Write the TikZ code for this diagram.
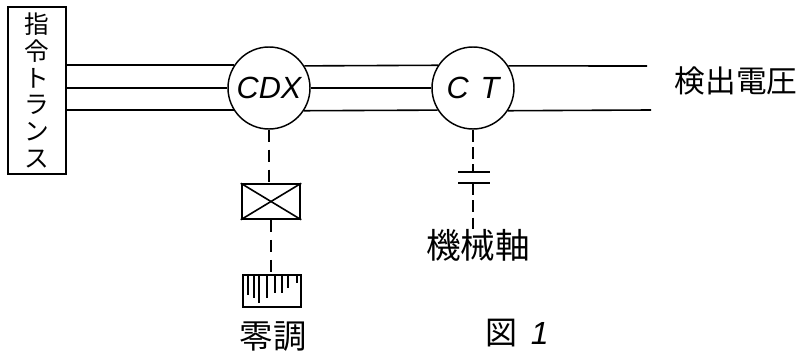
\documentclass[tikz,border=0pt]{standalone}
\usepackage{fontspec}
\setmainfont{Liberation Sans}
\newfontfamily\cjk{Noto Sans CJK JP}
\usepackage{tikz}
\usetikzlibrary{positioning,calc}
\begin{document}
\begin{tikzpicture}[
		x=0.75pt,y=-0.75pt,
		every node/.style={inner sep=0pt,align=center},
		unit/.style={draw,circle,line width=1.1pt,minimum size=61.5pt,font=\itshape\fontsize{23}{23}\selectfont},
		block/.style={draw,line width=1.4pt,minimum width=44pt,minimum height=26pt},
		wire/.style={line width=1.2pt},
		link/.style={line width=1.3pt,dash pattern=on 9pt off 6pt},
		coupling/.style={line width=1.3pt,dash pattern=on 9pt off 4pt},
		plate/.style={line width=1.5pt}
		]
		\useasboundingbox (0,0) rectangle (799,356);
		% transformers
		\node[unit] (cdx) at (269,88) {CDX};
		\node[unit] (ct) at (473,88) {C\hspace{9pt}T};
		\node[draw,line width=1.2pt,minimum width=43.5pt,minimum height=125pt,font=\cjk\fontsize{18.5}{20}\selectfont] (cmd) at (37,90.5) {指\\令\\ト\\ラ\\ン\\ス};
		% lower blocks
		\node[block] (brake) at (271,201.5) {};
		\node[block,minimum height=24pt] (scale) at (272,291) {};
		\node[font=\cjk\fontsize{25}{25}\selectfont] (zero) at (273,337) {零調};
		\node[font=\fontsize{24}{24}\selectfont] (fig) at (517,333) {{\cjk 図}\hspace{10pt}\textit{1}};
		\node[font=\cjk\fontsize{26}{26}\selectfont] (shaft) at (478,245) {機械軸};
		\node[font=\cjk\fontsize{23}{23}\selectfont] (volt) at (736,81) {検出電圧};
		% free ends and clutch plates
		\coordinate (volta) at (647,66);
		\coordinate (voltb) at (651,110);
		\coordinate (pa) at (474,172);
		\coordinate (pb) at (474,183);
		% three wires
		\draw[wire] (cmd.east |- cdx.147.5) -- (cdx.147.5);
		\draw[wire] (cmd.east |- cdx.west) -- (cdx.west);
		\draw[wire] (cmd.east |- cdx.212.5) -- (cdx.212.5);
		\draw[wire] (cdx.32.5) -- (ct.147.5);
		\draw[wire] (cdx.east) -- (ct.west);
		\draw[wire] (cdx.327.5) -- (ct.212.5);
		\draw[wire] (ct.32.5) -- (volta);
		\draw[wire] (ct.327.5) -- (voltb);
		% cross in the block
		\draw[wire] (brake.north west) -- (brake.south east);
		\draw[wire] (brake.north east) -- (brake.south west);
		% hatch
		\foreach \x/\l in {248/20,254/23,259/28,267/23,275/18,282/18,288/13,297/8} {
			\draw[wire] (\x,275) -- ++(0,\l);
		}
		% dashed shafts
		\draw[link] (cdx.south) -- (cdx.south |- brake.north);
		\draw[link] (brake.south) -- (brake.south |- scale.north);
		\draw[coupling] (ct.south) -- (ct.south |- pa);
		\draw[coupling] (ct.south |- pb) -- (ct.south |- shaft.north);
		\draw[plate] ($(pa)+(-16,0)$) -- ($(pa)+(16,0)$);
		\draw[plate] ($(pb)+(-16,0)$) -- ($(pb)+(16,0)$);
	\end{tikzpicture}
\end{document}
